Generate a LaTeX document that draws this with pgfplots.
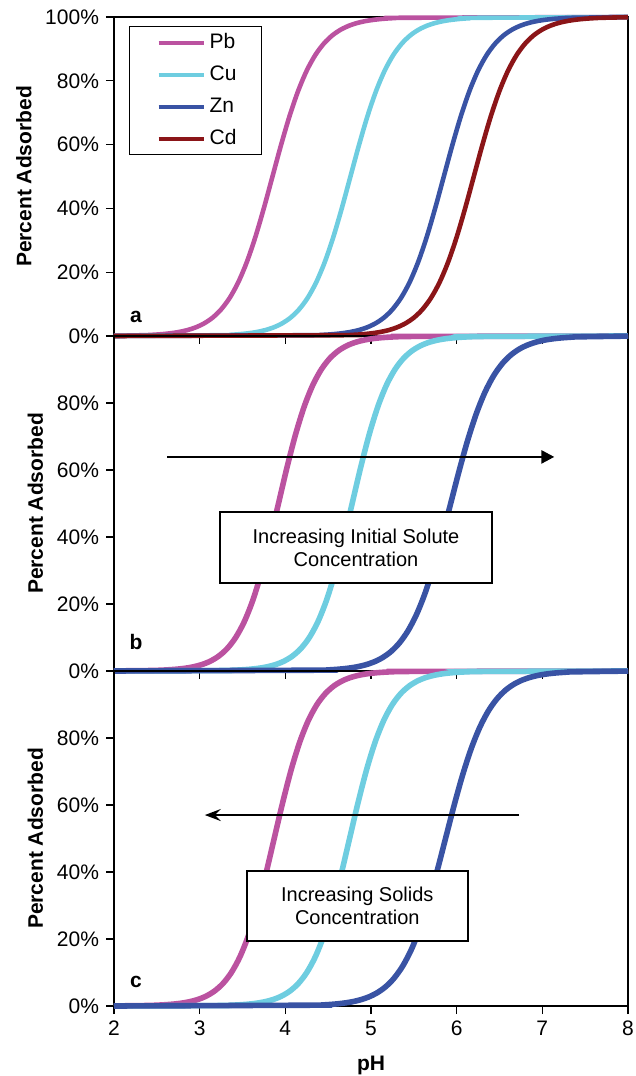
\documentclass[border=0pt]{standalone}
\usepackage{pgfplots}
\pgfplotsset{compat=1.18}
\usepackage{fontspec}
\setmainfont{Liberation Sans}
\usetikzlibrary{arrows.meta}
\definecolor{pbcol}{RGB}{187,82,160}
\definecolor{cucol}{RGB}{110,205,224}
\definecolor{zncol}{RGB}{57,83,164}
\definecolor{cdcol}{RGB}{139,21,24}
\pgfplotsset{
  panel/.style={
    scale only axis, width=257pt,
    xmin=2, xmax=8, ymin=0, ymax=100,
    axis line style={line width=0.6pt},
    tick pos=left, tick align=outside, major tick length=4pt,
    tick style={black, line width=0.6pt},
    xtick={2,3,4,5,6,7,8},
    ytick={0,20,40,60,80},
    yticklabel={\pgfmathprintnumber{\tick}\%},
    /pgf/number format/assume math mode=true,
    ticklabel style={font=\fontsize{10.5}{12}\selectfont},
    label style={font=\bfseries\fontsize{10.5}{12}\selectfont},
    ylabel={Percent Adsorbed},
    clip=false,
  },
}
\begin{document}
\begin{tikzpicture}
\useasboundingbox (0,0) rectangle (318pt,538pt);
% ---------------- panel a
\begin{axis}[panel, at={(57pt,370pt)}, anchor=south west, height=159.5pt,
  ytick={0,20,40,60,80,100}, xticklabels={},
  every axis plot/.append style={line width=2.3pt, smooth},
  legend style={at={(0.029,0.972)}, anchor=north west, draw=black, line width=0.7pt,
    fill=white, font=\fontsize{10.5}{12}\selectfont,
    nodes={inner sep=0pt, text height=8pt, text depth=2pt},
    row sep=6pt, column sep=2pt, inner xsep=0pt, inner ysep=3pt},
  legend cell align=left,
  legend image code/.code={\path[draw=none] (-14.5pt,0pt) -- (0pt,0pt); \draw[#1, line width=2pt] (0pt,0pt) -- (22.5pt,0pt);},
  legend entries={\makebox[26pt][l]{Pb},\makebox[26pt][l]{Cu},\makebox[26pt][l]{Zn},\makebox[26pt][l]{Cd}},
]
\addplot[pbcol] table[row sep=\\] {
2 0.06\\ 2.35 0.25\\ 2.45 0.37\\ 2.55 0.55\\ 2.65 0.82\\ 2.75 1.21\\ 2.85 1.80\\ 2.95 2.66\\ 3.05 3.92\\ 3.15 5.73\\ 3.25 8.32\\ 3.35 11.92\\ 3.45 16.80\\ 3.55 23.15\\ 3.65 31.00\\ 3.75 40.13\\ 3.85 50\\ 3.95 59.87\\ 4.05 69.00\\ 4.15 76.85\\ 4.25 83.20\\ 4.35 88.08\\ 4.45 91.68\\ 4.55 94.27\\ 4.65 96.08\\ 4.75 97.34\\ 4.85 98.20\\ 4.95 98.79\\ 5.05 99.18\\ 5.15 99.45\\ 5.25 99.63\\ 5.35 99.75\\ 8 100\\
};
\addplot[cucol] table[row sep=\\] {
2 0\\ 3.26 0.25\\ 3.36 0.37\\ 3.46 0.55\\ 3.56 0.82\\ 3.66 1.21\\ 3.76 1.80\\ 3.86 2.66\\ 3.96 3.92\\ 4.06 5.73\\ 4.16 8.32\\ 4.26 11.92\\ 4.36 16.80\\ 4.46 23.15\\ 4.56 31.00\\ 4.66 40.13\\ 4.76 50\\ 4.86 59.87\\ 4.96 69.00\\ 5.06 76.85\\ 5.16 83.20\\ 5.26 88.08\\ 5.36 91.68\\ 5.46 94.27\\ 5.56 96.08\\ 5.66 97.34\\ 5.76 98.20\\ 5.86 98.79\\ 5.96 99.18\\ 6.06 99.45\\ 6.16 99.63\\ 6.26 99.75\\ 8 100\\
};
\addplot[zncol] table[row sep=\\] {
2 0\\ 4.35 0.25\\ 4.45 0.37\\ 4.55 0.55\\ 4.65 0.82\\ 4.75 1.21\\ 4.85 1.80\\ 4.95 2.66\\ 5.05 3.92\\ 5.15 5.73\\ 5.25 8.32\\ 5.35 11.92\\ 5.45 16.80\\ 5.55 23.15\\ 5.65 31.00\\ 5.75 40.13\\ 5.85 50\\ 5.95 59.87\\ 6.05 69.00\\ 6.15 76.85\\ 6.25 83.20\\ 6.35 88.08\\ 6.45 91.68\\ 6.55 94.27\\ 6.65 96.08\\ 6.75 97.34\\ 6.85 98.20\\ 6.95 98.79\\ 7.05 99.18\\ 7.15 99.45\\ 7.25 99.63\\ 7.35 99.75\\ 8 99.98\\
};
\addplot[cdcol] table[row sep=\\] {
2 0\\ 4.7 0.25\\ 4.8 0.37\\ 4.9 0.55\\ 5.0 0.82\\ 5.1 1.21\\ 5.2 1.80\\ 5.3 2.66\\ 5.4 3.92\\ 5.5 5.73\\ 5.6 8.32\\ 5.7 11.92\\ 5.8 16.80\\ 5.9 23.15\\ 6.0 31.00\\ 6.1 40.13\\ 6.2 50\\ 6.3 59.87\\ 6.4 69.00\\ 6.5 76.85\\ 6.6 83.20\\ 6.7 88.08\\ 6.8 91.68\\ 6.9 94.27\\ 7.0 96.08\\ 7.1 97.34\\ 7.2 98.20\\ 7.3 98.79\\ 7.4 99.18\\ 7.5 99.45\\ 7.6 99.63\\ 7.7 99.75\\ 8 99.93\\
};
\node[anchor=base, font=\bfseries\fontsize{10.5}{12}\selectfont] at (axis cs:2.256,4.1) {a};
\end{axis}
% ---------------- panel b
\begin{axis}[panel, at={(57pt,202.5pt)}, anchor=south west, height=167.5pt,
  xticklabels={},
  every axis plot/.append style={line width=2.8pt, smooth},
]
\addplot[pbcol] table[row sep=\\] {
2 0.02\\ 2.42 0.14\\ 2.52 0.21\\ 2.62 0.33\\ 2.72 0.51\\ 2.82 0.78\\ 2.92 1.21\\ 3.02 1.87\\ 3.12 2.88\\ 3.22 4.40\\ 3.32 6.66\\ 3.42 9.98\\ 3.52 14.68\\ 3.62 21.08\\ 3.72 29.32\\ 3.82 39.17\\ 3.92 50\\ 4.02 60.83\\ 4.12 70.68\\ 4.22 78.92\\ 4.32 85.32\\ 4.42 90.02\\ 4.52 93.34\\ 4.62 95.60\\ 4.72 97.12\\ 4.82 98.13\\ 4.92 98.79\\ 5.02 99.22\\ 5.12 99.49\\ 5.22 99.67\\ 5.32 99.79\\ 5.42 99.86\\ 8 100\\
};
\addplot[cucol] table[row sep=\\] {
2 0\\ 3.28 0.14\\ 3.38 0.21\\ 3.48 0.33\\ 3.58 0.51\\ 3.68 0.78\\ 3.78 1.21\\ 3.88 1.87\\ 3.98 2.88\\ 4.08 4.40\\ 4.18 6.66\\ 4.28 9.98\\ 4.38 14.68\\ 4.48 21.08\\ 4.58 29.32\\ 4.68 39.17\\ 4.78 50\\ 4.88 60.83\\ 4.98 70.68\\ 5.08 78.92\\ 5.18 85.32\\ 5.28 90.02\\ 5.38 93.34\\ 5.48 95.60\\ 5.58 97.12\\ 5.68 98.13\\ 5.78 98.79\\ 5.88 99.22\\ 5.98 99.49\\ 6.08 99.67\\ 6.18 99.79\\ 6.28 99.86\\ 8 100\\
};
\addplot[zncol] table[row sep=\\] {
2 0\\ 4.43 0.25\\ 4.53 0.37\\ 4.63 0.55\\ 4.73 0.82\\ 4.83 1.21\\ 4.93 1.80\\ 5.03 2.66\\ 5.13 3.92\\ 5.23 5.73\\ 5.33 8.32\\ 5.43 11.92\\ 5.53 16.80\\ 5.63 23.15\\ 5.73 31.00\\ 5.83 40.13\\ 5.93 50\\ 6.03 59.87\\ 6.13 69.00\\ 6.23 76.85\\ 6.33 83.20\\ 6.43 88.08\\ 6.53 91.68\\ 6.63 94.27\\ 6.73 96.08\\ 6.83 97.34\\ 6.93 98.20\\ 7.03 98.79\\ 7.13 99.18\\ 7.23 99.45\\ 7.33 99.63\\ 7.43 99.75\\ 8 99.97\\
};
\draw[line width=0.8pt, fill=white] (axis cs:3.24,47.5) rectangle (axis cs:6.41,26.3);
\node[align=center, font=\fontsize{10}{11.5}\selectfont] at (axis cs:4.825,36.9) {Increasing Initial Solute\\Concentration};
\draw[line width=1.3pt, -{Triangle[length=6.5pt,width=6.5pt]}] (axis cs:2.62,63.9) -- (axis cs:7.14,63.9);
\node[anchor=base, font=\bfseries\fontsize{10.5}{12}\selectfont] at (axis cs:2.256,6.3) {b};
\end{axis}
% ---------------- panel c
\begin{axis}[panel, at={(57pt,35pt)}, anchor=south west, height=167.5pt,
  xlabel={pH}, xlabel style={yshift=-3pt},
  every axis plot/.append style={line width=2.8pt, smooth},
]
\addplot[pbcol] table[row sep=\\] {
2 0.02\\ 2.37 0.14\\ 2.47 0.21\\ 2.57 0.33\\ 2.67 0.51\\ 2.77 0.78\\ 2.87 1.21\\ 2.97 1.87\\ 3.07 2.88\\ 3.17 4.40\\ 3.27 6.66\\ 3.37 9.98\\ 3.47 14.68\\ 3.57 21.08\\ 3.67 29.32\\ 3.77 39.17\\ 3.87 50\\ 3.97 60.83\\ 4.07 70.68\\ 4.17 78.92\\ 4.27 85.32\\ 4.37 90.02\\ 4.47 93.34\\ 4.57 95.60\\ 4.67 97.12\\ 4.77 98.13\\ 4.87 98.79\\ 4.97 99.22\\ 5.07 99.49\\ 5.17 99.67\\ 5.27 99.79\\ 5.37 99.86\\ 8 100\\
};
\addplot[cucol] table[row sep=\\] {
2 0\\ 3.25 0.14\\ 3.35 0.21\\ 3.45 0.33\\ 3.55 0.51\\ 3.65 0.78\\ 3.75 1.21\\ 3.85 1.87\\ 3.95 2.88\\ 4.05 4.40\\ 4.15 6.66\\ 4.25 9.98\\ 4.35 14.68\\ 4.45 21.08\\ 4.55 29.32\\ 4.65 39.17\\ 4.75 50\\ 4.85 60.83\\ 4.95 70.68\\ 5.05 78.92\\ 5.15 85.32\\ 5.25 90.02\\ 5.35 93.34\\ 5.45 95.60\\ 5.55 97.12\\ 5.65 98.13\\ 5.75 98.79\\ 5.85 99.22\\ 5.95 99.49\\ 6.05 99.67\\ 6.15 99.79\\ 6.25 99.86\\ 8 100\\
};
\addplot[zncol] table[row sep=\\] {
2 0\\ 4.37 0.25\\ 4.47 0.37\\ 4.57 0.55\\ 4.67 0.82\\ 4.77 1.21\\ 4.87 1.80\\ 4.97 2.66\\ 5.07 3.92\\ 5.17 5.73\\ 5.27 8.32\\ 5.37 11.92\\ 5.47 16.80\\ 5.57 23.15\\ 5.67 31.00\\ 5.77 40.13\\ 5.87 50\\ 5.97 59.87\\ 6.07 69.00\\ 6.17 76.85\\ 6.27 83.20\\ 6.37 88.08\\ 6.47 91.68\\ 6.57 94.27\\ 6.67 96.08\\ 6.77 97.34\\ 6.87 98.20\\ 6.97 98.79\\ 7.07 99.18\\ 7.17 99.45\\ 7.27 99.63\\ 7.37 99.75\\ 8 99.98\\
};
\draw[line width=0.8pt, fill=white] (axis cs:3.55,40.3) rectangle (axis cs:6.13,19.4);
\node[align=center, font=\fontsize{10}{11.5}\selectfont] at (axis cs:4.84,29.85) {Increasing Solids\\Concentration};
\draw[line width=1.3pt, -{Stealth[length=8pt,width=6pt,inset=3pt]}] (axis cs:6.73,57) -- (axis cs:3.06,57);
\node[anchor=base, font=\bfseries\fontsize{10.5}{12}\selectfont] at (axis cs:2.256,5.4) {c};
\end{axis}
\end{tikzpicture}
\end{document}
